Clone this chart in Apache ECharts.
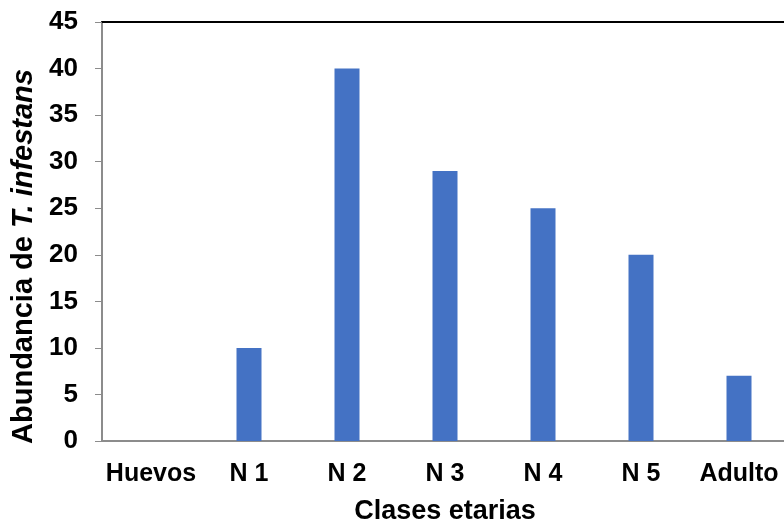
<!DOCTYPE html>
<html><head><meta charset="utf-8">
<script src="https://cdn.jsdelivr.net/npm/echarts@6/dist/echarts.min.js"></script>
<style>html,body{margin:0;padding:0;background:#fff}#c{width:784px;height:525px}</style>
</head><body><div id="c"></div>
<script>
const categories = ['Huevos', 'N 1', 'N 2', 'N 3', 'N 4', 'N 5', 'Adulto'];
const abundance = [0, 10, 40, 29, 25, 20, 7];
const yTicks = {min: 0, max: 45, interval: 5};

const FONT = '"Liberation Sans", Arial, sans-serif';
const chart = echarts.init(document.getElementById('c'), null, {renderer: 'canvas'});
chart.setOption({
  animation: false,
  grid: {left: 102, top: 22, width: 686, height: 419, containLabel: false, outerBoundsMode: 'none'},
  xAxis: [{
    type: 'category', data: categories, position: 'bottom',
    axisLine: {show: true, lineStyle: {color: '#8c8c8c', width: 2}},
    axisTick: {show: false},
    axisLabel: {color: '#000', fontFamily: FONT, fontWeight: 'bold', fontSize: 25, margin: 21, interval: 0},
    name: 'Clases etarias', nameLocation: 'middle', nameGap: 57,
    nameTextStyle: {color: '#000', fontFamily: FONT, fontWeight: 'bold', fontSize: 27}
  }, {
    type: 'category', data: categories, position: 'top',
    axisLine: {show: true, lineStyle: {color: '#000', width: 2}},
    axisTick: {show: false}, axisLabel: {show: false}
  }],
  yAxis: {
    type: 'value', min: yTicks.min, max: yTicks.max, interval: yTicks.interval,
    axisLine: {show: true, lineStyle: {color: '#8c8c8c', width: 2}},
    axisTick: {show: true, inside: false, length: 7, lineStyle: {color: '#8c8c8c', width: 1}},
    splitLine: {show: false},
    axisLabel: {color: '#000', fontFamily: FONT, fontWeight: 'bold', fontSize: 26, margin: 24},
    name: '{n|Abundancia de }{i|T. infestans}', nameLocation: 'middle', nameGap: 62, nameRotate: 90,
    nameTextStyle: {
      padding: [0, 50, 0, 0],
      rich: {
        n: {color: '#000', fontFamily: FONT, fontWeight: 'bold', fontSize: 29},
        i: {color: '#000', fontFamily: FONT, fontWeight: 'bold', fontStyle: 'italic', fontSize: 29}
      }
    }
  },
  series: [{
    type: 'bar', data: abundance, barWidth: 25, xAxisIndex: 0,
    itemStyle: {color: '#4472c4'}
  }]
});
</script></body></html>
